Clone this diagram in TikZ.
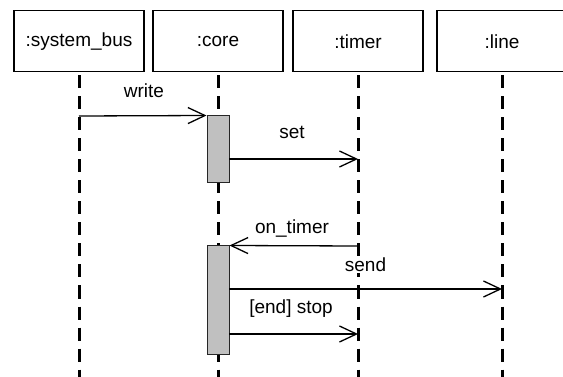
\documentclass[tikz,border=0pt]{standalone}
\usepackage{fontspec}
\setmainfont{Liberation Sans}
\usetikzlibrary{arrows.meta}
\begin{document}
\begin{tikzpicture}[x=1pt,y=-1pt,
  txt/.style={font=\fontsize{19}{21}\selectfont},
  obj/.style={txt, draw, line width=1.5pt, minimum width=130pt, minimum height=61pt, inner sep=0pt, anchor=north},
  lifeline/.style={line width=3pt, dash pattern=on 13pt off 8pt},
  act/.style={draw=black!85, fill={rgb,255:red,192;green,192;blue,192}, line width=1pt, minimum width=22pt, inner sep=0pt},
  msg/.style={line width=1.3pt, -{Straight Barb[length=17pt,width=16pt]}},
  lbl/.style={txt, inner sep=1pt}
]
\useasboundingbox (0,0) rectangle (563,377);
% objects
\node[obj] (sb) at (79,10) {:system\_bus};
\node[obj] (core) at (218,10) {:core};
\node[obj] (timer) at (358,10) {:timer};
\node[obj] (line) at (502,10) {:line};
% lifeline ends
\coordinate (sbE) at (79,380);
\coordinate (coreE) at (218,380);
\coordinate (timerE) at (358,380);
\coordinate (lineE) at (502,380);
\draw[lifeline] ([yshift=-3pt]sb.south) -- (sbE);
\draw[lifeline] ([yshift=-3pt]core.south) -- (coreE);
\draw[lifeline] ([yshift=-3pt]timer.south) -- (timerE);
\draw[lifeline] ([yshift=-3pt]line.south) -- (lineE);
% activations
\node[act, minimum height=67pt] (act1) at (218,149.5) {};
\node[act, minimum height=108pt] (act2) at (218,300) {};
% message points
\coordinate (w0) at (79,116);
\coordinate (s0) at (229,159);
\coordinate (s1) at (358,159);
\coordinate (o0) at (358,246);
\coordinate (n0) at (229,289);
\coordinate (n1) at (502,289);
\coordinate (t0) at (229,334);
\coordinate (t1) at (358,334);
% messages
\draw[msg] (w0) -- (act1.north west);
\draw[msg] (s0) -- (s1);
\draw[msg] (o0) -- (act2.north east);
\draw[msg] (n0) -- (n1);
\draw[msg] (t0) -- (t1);
% labels
\node[lbl] (lw) at (144,91) {write};
\node[lbl] (ls) at (292,132) {set};
\node[lbl] (lo) at (292,229) {on\_timer};
\node[lbl, fill=white] (ln) at (365.5,265) {send};
\node[lbl] (lt) at (291,309) {[end] stop};
\end{tikzpicture}
\end{document}
